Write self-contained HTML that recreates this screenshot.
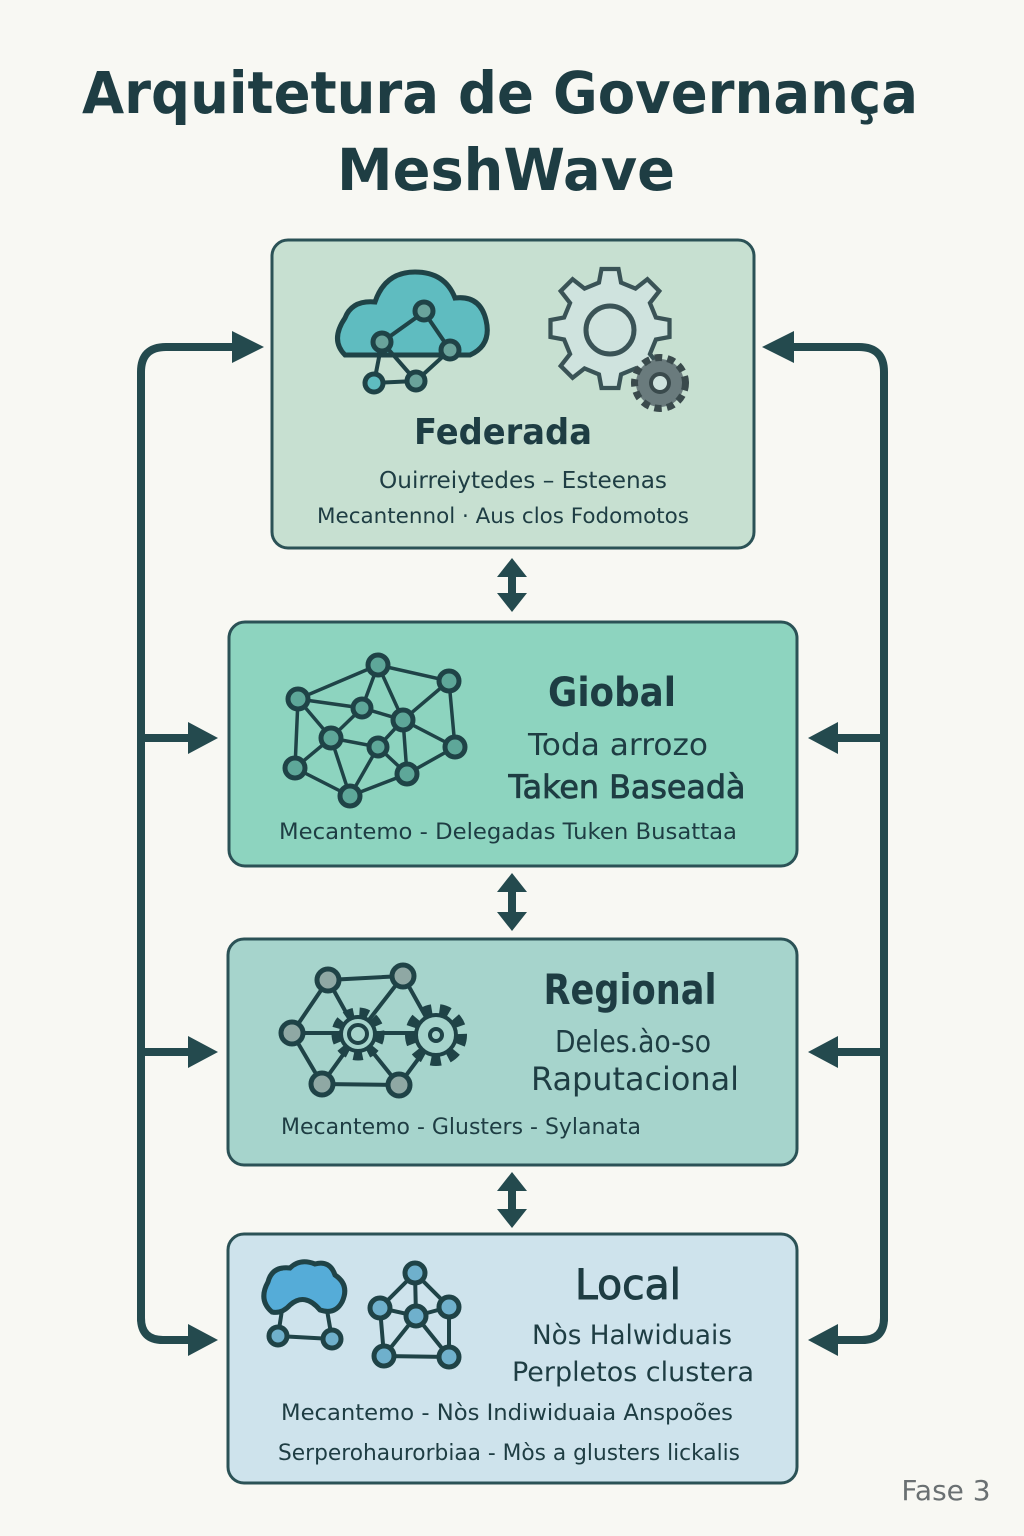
<!DOCTYPE html>
<html><head><meta charset="utf-8"><style>
html,body{margin:0;padding:0;background:#f8f8f3;}
svg{display:block;}
text{font-family:"DejaVu Sans","Liberation Sans",sans-serif;fill:#1e3d43;}
</style></head><body>
<svg width="1024" height="1536" viewBox="0 0 1024 1536" xmlns="http://www.w3.org/2000/svg">
<rect width="1024" height="1536" fill="#f8f8f3"/>
<text x="500" y="113" font-size="58" text-anchor="middle" font-weight="bold" fill="#1b3a41" textLength="836" lengthAdjust="spacingAndGlyphs">Arquitetura de Governança</text>
<text x="506" y="190" font-size="58" text-anchor="middle" font-weight="bold" fill="#1b3a41" textLength="338" lengthAdjust="spacingAndGlyphs">MeshWave</text>

<!-- side connectors -->
<g fill="none" stroke="#244a4e" stroke-width="8" stroke-linecap="round">
<path d="M141 1320 V372 Q141 347 166 347 H236"/>
<path d="M141 738 H192"/><path d="M141 1052 H192"/>
<path d="M141 1318 Q141 1340 163 1340 H192"/>
<path d="M884 1320 V372 Q884 347 859 347 H790"/>
<path d="M884 738 H834"/><path d="M884 1052 H834"/>
<path d="M884 1318 Q884 1340 862 1340 H834"/>
</g>
<g fill="#244a4e">
<polygon points="232,331 264,347 232,363"/>
<polygon points="188,722 218,738 188,754"/>
<polygon points="188,1036 218,1052 188,1068"/>
<polygon points="188,1324 218,1340 188,1356"/>
<polygon points="794,331 762,347 794,363"/>
<polygon points="838,722 808,738 838,754"/>
<polygon points="838,1036 808,1052 838,1068"/>
<polygon points="838,1324 808,1340 838,1356"/>
</g>
<!-- double arrows -->
<g fill="#244a4e">
<g transform="translate(512,585)"><polygon points="0,-27 -15,-8 -4,-8 -4,8 -15,8 0,27 15,8 4,8 4,-8 15,-8"/></g>
<g transform="translate(512,902)"><polygon points="0,-29 -15,-10 -4,-10 -4,10 -15,10 0,29 15,10 4,10 4,-10 15,-10"/></g>
<g transform="translate(512,1200)"><polygon points="0,-28 -15,-9 -4,-9 -4,9 -15,9 0,28 15,9 4,9 4,-9 15,-9"/></g>
</g>

<!-- boxes -->
<rect x="272" y="240" width="482" height="308" rx="16" fill="#c7e0d1" stroke="#2b5256" stroke-width="3"/>
<rect x="229" y="622" width="568" height="244" rx="16" fill="#8dd4bf" stroke="#2b5256" stroke-width="3"/>
<rect x="228" y="939" width="569" height="226" rx="16" fill="#a6d4cc" stroke="#2b5256" stroke-width="3"/>
<rect x="228" y="1234" width="569" height="249" rx="16" fill="#cee3ec" stroke="#2b5256" stroke-width="3"/>

<!-- box1 icons -->
<path d="M345 355 Q330 340 345 318 Q352 300 375 302 Q385 272 415 272 Q445 272 455 298 Q480 295 486 320 Q492 345 470 355 Z" fill="#5fbcc0" stroke="#1f4347" stroke-width="5"/>
<g stroke="#1f4347" stroke-width="4" fill="none">
<path d="M382 342 L424 312 L450 350 L416 381 L382 342 M382 342 L374 383 L416 381"/>
</g>
<g fill="#6aa39b" stroke="#1f4347" stroke-width="5">
<circle cx="424" cy="311" r="9"/><circle cx="382" cy="342" r="9"/><circle cx="450" cy="350" r="9"/>
<circle cx="374" cy="383" r="9" fill="#5fbcc0"/><circle cx="416" cy="381" r="9"/>
</g>
<g transform="translate(610,330)">
<path d="M-10,-60 L10,-60 L13,-44 L30,-37 L44,-48 L58,-34 L47,-20 L54,-3 L70,0 L70,20 L54,23 L47,40 L58,54 L44,68 L30,57 L13,64 L10,80 L-10,80 L-13,64 L-30,57 L-44,68 L-58,54 L-47,40 L-54,23 L-70,20 L-70,0 L-54,-3 L-47,-20 L-58,-34 L-44,-48 L-30,-37 L-13,-44 Z" transform="translate(0,-10) scale(0.85)" fill="#cfe3de" stroke="#3a5356" stroke-width="5"/>
<circle cx="0" cy="0" r="24" fill="#cfe3de" stroke="#3a5356" stroke-width="5"/>
</g>
<g transform="translate(660,383)">
<circle r="24" fill="#6a7b7d" stroke="#3a4a4c" stroke-width="10" stroke-dasharray="7 5"/>
<circle r="22" fill="#6a7b7d"/>
<circle r="9" fill="#cfe3de" stroke="#3a4a4c" stroke-width="4"/>
</g>
<text x="503" y="444" font-size="36" text-anchor="middle" font-weight="bold" textLength="178" lengthAdjust="spacingAndGlyphs">Federada</text>
<text x="523" y="488" font-size="23" text-anchor="middle" textLength="288" lengthAdjust="spacingAndGlyphs">Ouirreiytedes – Esteenas</text>
<text x="503" y="523" font-size="21" text-anchor="middle" textLength="372" lengthAdjust="spacingAndGlyphs">Mecantennol · Aus clos Fodomotos</text>

<!-- box2 icon -->
<g stroke="#1f4347" stroke-width="3.5" fill="none">
<path d="M378 665 L449 681 L455 747 L407 774 L350 796 L295 768 L298 699 L378 665 M298 699 L362 708 L403 720 L449 681 M378 665 L362 708 L331 738 L298 699 M378 665 L403 720 L455 747 M403 720 L378 747 L331 738 L295 768 M331 738 L350 796 L378 747 L407 774 L403 720"/>
</g>
<g fill="#5ea799" stroke="#1f4347" stroke-width="5">
<circle cx="378" cy="665" r="10"/><circle cx="449" cy="681" r="10"/><circle cx="298" cy="699" r="10"/>
<circle cx="362" cy="708" r="9"/><circle cx="403" cy="720" r="10"/><circle cx="331" cy="738" r="10"/>
<circle cx="378" cy="747" r="9"/><circle cx="455" cy="747" r="10"/><circle cx="295" cy="768" r="10"/>
<circle cx="407" cy="774" r="10"/><circle cx="350" cy="796" r="10"/>
</g>
<text x="612" y="706" font-size="40" text-anchor="middle" font-weight="bold" textLength="128" lengthAdjust="spacingAndGlyphs">Giobal</text>
<text x="618" y="755" font-size="30" text-anchor="middle" textLength="180" lengthAdjust="spacingAndGlyphs">Toda arrozo</text>
<text x="627" y="798" font-size="32" text-anchor="middle" textLength="237" lengthAdjust="spacingAndGlyphs" stroke="#1e3d43" stroke-width="0.8">Taken Baseadà</text>
<text x="508" y="839" font-size="22" text-anchor="middle" textLength="458" lengthAdjust="spacingAndGlyphs">Mecantemo - Delegadas Tuken Busattaa</text>

<!-- box3 icon -->
<g stroke="#1f4347" stroke-width="4" fill="none">
<path d="M328 980 L403 976 L436 1035 L399 1085 L322 1084 L292 1033 Z M328 980 L358 1034 L399 1085 M403 976 L358 1034 L322 1084 M292 1033 L436 1033"/>
</g>
<g transform="translate(358,1034)">
<circle r="22" fill="none" stroke="#1f4347" stroke-width="9" stroke-dasharray="9 6"/>
<circle r="17" fill="#a6d4cc" stroke="#1f4347" stroke-width="4"/>
<circle r="9" fill="none" stroke="#1f4347" stroke-width="4"/>
</g>
<g transform="translate(436,1035)">
<circle r="26" fill="none" stroke="#1f4347" stroke-width="10" stroke-dasharray="10 8"/>
<circle r="20" fill="#a6d4cc" stroke="#1f4347" stroke-width="4"/>
<circle r="6" fill="none" stroke="#1f4347" stroke-width="4"/>
</g>
<g fill="#8fa8a4" stroke="#1f4347" stroke-width="5">
<circle cx="328" cy="980" r="11"/><circle cx="403" cy="976" r="11"/><circle cx="292" cy="1033" r="11"/>
<circle cx="322" cy="1084" r="11"/><circle cx="399" cy="1085" r="11"/>
</g>
<text x="630" y="1004" font-size="42" text-anchor="middle" font-weight="bold" textLength="173" lengthAdjust="spacingAndGlyphs">Regional</text>
<text x="633" y="1052" font-size="30" text-anchor="middle" textLength="156" lengthAdjust="spacingAndGlyphs">Deles.ào-so</text>
<text x="635" y="1090" font-size="32" text-anchor="middle" textLength="208" lengthAdjust="spacingAndGlyphs">Raputacional</text>
<text x="461" y="1134" font-size="22" text-anchor="middle" textLength="360" lengthAdjust="spacingAndGlyphs">Mecantemo - Glusters - Sylanata</text>

<!-- box4 icons -->
<path d="M272 1312 Q258 1300 268 1282 Q272 1266 290 1268 Q300 1258 315 1264 Q330 1260 335 1275 Q350 1285 342 1302 Q335 1315 320 1310 Q305 1292 290 1305 Q282 1314 272 1312 Z" fill="#55acd8" stroke="#1f4347" stroke-width="5"/>
<g stroke="#1f4347" stroke-width="4" fill="none">
<path d="M282 1310 L278 1336 L332 1339 L327 1310"/>
<path d="M415 1273 L380 1308 L384 1356 L449 1357 L449 1307 L415 1273 L416 1316 L384 1356 M416 1316 L449 1357 M380 1308 L416 1316 L449 1307"/>
</g>
<g fill="#6fb0cc" stroke="#1f4347" stroke-width="5">
<circle cx="278" cy="1336" r="9"/><circle cx="332" cy="1339" r="9"/>
<circle cx="415" cy="1273" r="10"/><circle cx="380" cy="1308" r="10"/><circle cx="416" cy="1316" r="10"/>
<circle cx="449" cy="1307" r="10"/><circle cx="384" cy="1356" r="10"/><circle cx="449" cy="1357" r="10"/>
</g>
<text x="628" y="1299" font-size="42" text-anchor="middle" stroke="#1e3d43" stroke-width="1" textLength="106" lengthAdjust="spacingAndGlyphs">Local</text>
<text x="632" y="1344" font-size="27" text-anchor="middle" textLength="200" lengthAdjust="spacingAndGlyphs">Nòs Halwiduais</text>
<text x="633" y="1381" font-size="27" text-anchor="middle" textLength="242" lengthAdjust="spacingAndGlyphs">Perpletos clustera</text>
<text x="507" y="1420" font-size="22" text-anchor="middle" textLength="452" lengthAdjust="spacingAndGlyphs">Mecantemo - Nòs Indiwiduaia  Anspoões</text>
<text x="509" y="1460" font-size="22" text-anchor="middle" textLength="462" lengthAdjust="spacingAndGlyphs">Serperohaurorbiaa - Mòs a glusters lickalis</text>

<text x="946" y="1500" font-size="28" text-anchor="middle" style="fill:#6a7072">Fase 3</text>
</svg>
</body></html>
